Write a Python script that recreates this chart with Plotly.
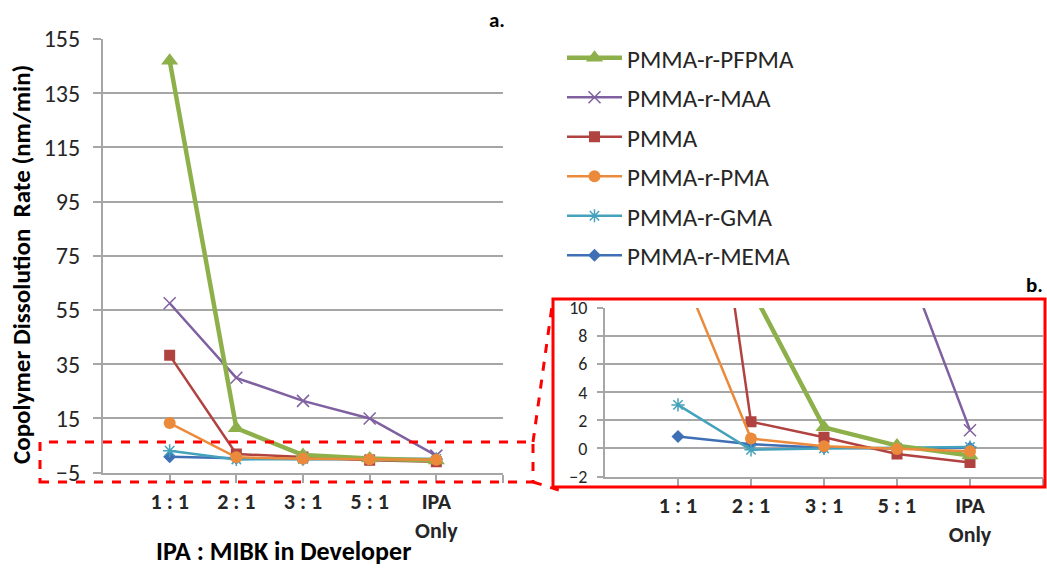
import plotly.graph_objects as go

# ---- data ----
categories = ["1 : 1", "2 : 1", "3 : 1", "5 : 1", "IPA<br>Only"]
x_pos = [0, 1, 2, 3, 4]
series_names = ["PMMA-r-PFPMA", "PMMA-r-MAA", "PMMA", "PMMA-r-PMA", "PMMA-r-GMA", "PMMA-r-MEMA"]
pfpma = [147, 11.4, 1.5, 0.2, -0.5]
maa = [57.5, 30, 21.5, 15, 1.3]
pmma = [38.3, 1.9, 0.8, -0.4, -1.0]
pma = [13.3, 0.7, 0.15, -0.05, -0.2]
gma = [3.1, -0.1, 0.0, 0.05, 0.1]
mema = [0.85, 0.3, 0.05, 0.0, 0.05]

main_yticks = [-5, 15, 35, 55, 75, 95, 115, 135, 155]
inset_yticks = [-2, 0, 2, 4, 6, 8, 10]

W, H = 1047, 571
FONT = "Carlito, Calibri, Lato, sans-serif"
GRID = "#A6A6A6"
TXT = "#262626"

styles = {
    "PMMA-r-PFPMA": dict(color="#8DB04B", width=4.5, symbol="triangle-up", size=15, rank=1),
    "PMMA-r-MAA": dict(color="#7F60A0", width=2.5, symbol="x-thin-open", size=12, rank=2),
    "PMMA": dict(color="#B04240", width=2.5, symbol="square", size=11, rank=3),
    "PMMA-r-PMA": dict(color="#EC8A3C", width=2.5, symbol="circle", size=12, rank=4),
    "PMMA-r-GMA": dict(color="#45A2BC", width=2.5, symbol="asterisk-open", size=11, rank=5),
    "PMMA-r-MEMA": dict(color="#3F6FB5", width=2.5, symbol="diamond", size=10, rank=6),
}
values = {
    "PMMA-r-PFPMA": pfpma, "PMMA-r-MAA": maa, "PMMA": pmma,
    "PMMA-r-PMA": pma, "PMMA-r-GMA": gma, "PMMA-r-MEMA": mema,
}
draw_order = ["PMMA-r-MEMA", "PMMA-r-GMA", "PMMA-r-MAA", "PMMA", "PMMA-r-PFPMA", "PMMA-r-PMA"]

fig = go.Figure()
for name in draw_order:
    s = styles[name]
    for ax, show in (("", True), ("2", False)):
        fig.add_trace(go.Scatter(
            x=x_pos, y=values[name], name=name, mode="lines+markers",
            xaxis="x" + ax, yaxis="y" + ax, showlegend=show,
            legendgroup=name, legendrank=s["rank"],
            line=dict(color=s["color"], width=s["width"]),
            marker=dict(symbol=s["symbol"], size=s["size"], color=s["color"],
                        line=dict(color=s["color"], width=1.5 if "open" in s["symbol"] else 0)),
        ))

def px_x(p):
    return p / W

def px_y(p):
    return 1 - p / H

axis_common = dict(showgrid=False, zeroline=False, showline=True, linecolor=GRID, linewidth=2,
                   ticks="outside", ticklen=8, tickcolor=GRID, tickwidth=2, fixedrange=True,
                   automargin=False)

fig.update_layout(
    template="none",
    width=W, height=H, margin=dict(l=0, r=0, t=0, b=0, pad=0, autoexpand=False),
    paper_bgcolor="white", plot_bgcolor="white",
    font=dict(family=FONT, color=TXT),
    xaxis=dict(domain=[px_x(103), px_x(503)], range=[-1, 5],
               tickvals=[0, 1, 2, 3, 4, 5], ticktext=categories + [""],
               tickfont=dict(size=22, family=FONT, color=TXT, weight="bold"), **axis_common),
    yaxis=dict(domain=[px_y(472.7), px_y(39)], range=[-5, 155], tickvals=main_yticks,
               showgrid=True, gridcolor=GRID, gridwidth=2, zeroline=False, showline=True,
               linecolor=GRID, linewidth=2, ticks="outside", ticklen=8, tickcolor=GRID, tickwidth=2,
               ticklabelstandoff=8,
               tickfont=dict(size=24, family=FONT, color=TXT), fixedrange=True, automargin=False),
    xaxis2=dict(domain=[px_x(605), px_x(1043)], range=[-1, 5], anchor="y2",
                tickvals=[0, 1, 2, 3, 4, 5], ticktext=categories + [""],
                tickfont=dict(size=22, family=FONT, color=TXT, weight="bold"), **axis_common),
    yaxis2=dict(domain=[px_y(476.5), px_y(308)], range=[-2, 10], anchor="x2", tickvals=inset_yticks,
                showgrid=True, gridcolor=GRID, gridwidth=2, zeroline=False, showline=True,
                linecolor=GRID, linewidth=2, ticks="outside", ticklen=6, tickcolor=GRID, tickwidth=2,
                ticklabelstandoff=6,
                tickfont=dict(size=18, family=FONT, color=TXT), fixedrange=True, automargin=False),
    legend=dict(x=px_x(562), y=px_y(35), xanchor="left", yanchor="top",
                bgcolor="rgba(0,0,0,0)", font=dict(size=25, family=FONT, color=TXT),
                tracegroupgap=4, itemwidth=55, traceorder="grouped"),
    showlegend=True,
)

annotations = [
    dict(text="<b>Copolymer Dissolution  Rate (nm/min)</b>", x=px_x(22), y=px_y(265),
         textangle=-90, font=dict(size=25, family=FONT, color="black")),
    dict(text="<b>IPA : MIBK in Developer</b>", x=px_x(283), y=px_y(551),
         font=dict(size=26, family=FONT, color="black")),
    dict(text="<b>a.</b>", x=px_x(497), y=px_y(20), font=dict(size=21, family=FONT, color="black")),
    dict(text="<b>b.</b>", x=px_x(1034), y=px_y(285), font=dict(size=21, family=FONT, color="black")),
]
for a in annotations:
    a.update(xref="paper", yref="paper", showarrow=False, xanchor="center", yanchor="middle")
fig.update_layout(annotations=annotations)

shapes = [
    # inset frame
    dict(type="rect", x0=px_x(553), x1=px_x(1045), y0=px_y(487), y1=px_y(299),
         line=dict(color="#FF0000", width=3)),
    # dashed zoom region in main chart
    dict(type="rect", x0=px_x(40), x1=px_x(533), y0=px_y(482), y1=px_y(442),
         line=dict(color="#FF0000", width=3, dash="dash")),
    dict(type="line", x0=px_x(533), x1=px_x(553), y0=px_y(442), y1=px_y(299),
         line=dict(color="#FF0000", width=3, dash="dash")),
    dict(type="line", x0=px_x(533), x1=px_x(562), y0=px_y(482), y1=px_y(491),
         line=dict(color="#FF0000", width=3, dash="dash")),
]
for s in shapes:
    s.update(xref="paper", yref="paper", layer="above")
fig.update_layout(shapes=shapes)

fig.write_html("out.html", config={"displayModeBar": False},
               post_script="document.body.style.margin='0px';")
